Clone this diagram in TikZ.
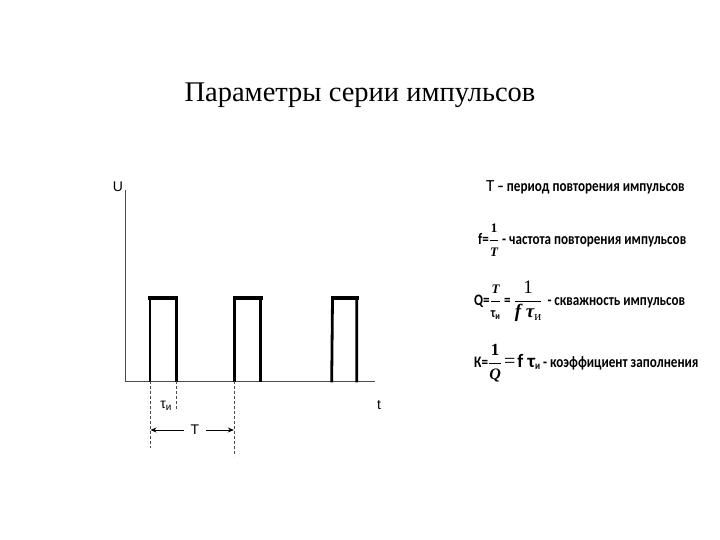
\documentclass[tikz,border=0pt]{standalone}
\usepackage{fontspec}
\setmainfont{Liberation Serif}
\newfontfamily\lsans{Liberation Sans}
\newfontfamily\carl[FakeStretch=0.82]{Carlito}
\newfontfamily\carlr{Carlito}
\newfontfamily\ser{Liberation Serif}
\usetikzlibrary{arrows.meta}
\newcommand\myfs[1]{\fontsize{#1}{#1}\selectfont}
\begin{document}
\begin{tikzpicture}[x=1pt,y=-1pt,
  axisline/.style={line width=0.9pt, black!70},
  pulse/.style={line width=2.8pt, line join=miter, line cap=rect},
  pulsetop/.style={line width=3.6pt, line cap=rect},
  guide/.style={line width=0.6pt, black!70, dash pattern=on 3pt off 2pt},
  lbl/.style={font=\lsans\myfs{14}, inner sep=0},
  txt/.style={font=\carl\bfseries\myfs{16}, anchor=west, inner sep=0},
  dimarrow/.style={line width=0.8pt, -{Stealth[length=6pt,width=5pt]}}]
\useasboundingbox (0,0) rectangle (720,540);
% title
\node[font=\ser\myfs{28.5}, inner sep=0] (title) at (360,95) {Параметры серии импульсов};
% axes
\coordinate (O) at (125,381);
\coordinate (ytop) at (125,190);
\coordinate (xend) at (375,381);
\draw[axisline] (ytop) -- (O) -- (xend);
\node[lbl] (U) at (118,187) {U};
\node[lbl] (t) at (379,405) {t};
% pulses
\draw[pulse] (150,381) -- (150,298) -- (176.5,298) -- (176.5,381);
\draw[pulsetop] (150,298) -- (176.5,298);
\draw[pulse] (234.3,381) -- (234.3,298) -- (260.7,298) -- (260.7,381);
\draw[pulsetop] (234.3,298) -- (260.7,298);
\draw[pulse] (331.7,381) -- (332.5,298) -- (356.7,298) -- (356.7,381);
\draw[pulsetop] (332.5,298) -- (356.7,298);
% guides
\coordinate (g1a) at (150,381); \coordinate (g1b) at (150,448);
\coordinate (g2a) at (176.5,381); \coordinate (g2b) at (176.5,411);
\coordinate (g3a) at (234.3,381); \coordinate (g3b) at (234.3,456);
\draw[guide] (g1a) -- (g1b);
\draw[guide] (g2a) -- (g2b);
\draw[guide] (g3a) -- (g3b);
\node[lbl] (tau) at (166,406) {τ\raisebox{-2pt}{\myfs{10}и}};
\node[lbl] (T) at (195,430) {T};
\coordinate (aL) at (150.5,430);
\coordinate (aR) at (233.8,430);
\draw[dimarrow] ([xshift=-7pt]T.west) -- (aL);
\draw[dimarrow] ([xshift=7pt]T.east) -- (aR);
% right-hand text
\node[txt] (l1) at (486,187) {{\carlr\mdseries\myfs{17}T} – период повторения импульсов};
\node[txt] (l2) at (478,240) {f=$\displaystyle\frac{\hbox{\ser\bfseries\myfs{13}1}}{\hbox{\ser\bfseries\itshape\myfs{13}T}}$ - частота повторения импульсов};
\node[txt] (l3) at (474,301) {Q=$\displaystyle\frac{\hbox{\ser\bfseries\itshape\myfs{13}T}}{\hbox{\carl\bfseries\myfs{14}τ\raisebox{-2pt}{\myfs{10}и}}}$ = $\displaystyle\frac{\hbox{\ser\mdseries\myfs{19}1}}{\hbox{\ser\bfseries\itshape\myfs{19}f τ\raisebox{-3pt}{\mdseries\upshape\myfs{13}и}}}$\hspace{2pt} - скважность импульсов};
\node[txt] (l4) at (474,363) {К=$\displaystyle\frac{\hbox{\ser\bfseries\myfs{17}1}}{\hbox{\ser\bfseries\itshape\myfs{16}Q}}$\hspace{2pt}{\ser\mdseries\myfs{20}=}\hspace{2pt}{\carlr\myfs{19}f τ}\raisebox{-2pt}{\myfs{11}и}\hspace{3pt}- коэффициент заполнения};
\end{tikzpicture}
\end{document}
